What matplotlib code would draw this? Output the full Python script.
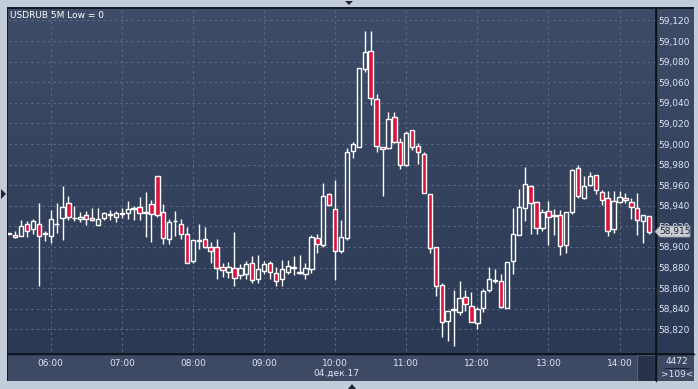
import numpy as np
import matplotlib
matplotlib.use("Agg")
import matplotlib.pyplot as plt
from matplotlib.colors import LinearSegmentedColormap
from matplotlib.patches import Polygon, Rectangle

# 5 minute candles, first one at 05:25
start_time = "05:25"
opens = [58.913, 58.912, 58.911, 58.922, 58.917, 58.922, 58.913, 58.911, 58.922, 58.928,
         58.943, 58.928, 58.927, 58.931, 58.928, 58.921, 58.928, 58.931, 58.929, 58.932,
         58.933, 58.937, 58.939, 58.933, 58.942, 58.969, 58.934, 58.908, 58.925, 58.922,
         58.913, 58.886, 58.906, 58.908, 58.900, 58.900, 58.881, 58.876, 58.880, 58.873,
         58.874, 58.884, 58.869, 58.877, 58.884, 58.875, 58.869, 58.876, 58.880, 58.875,
         58.874, 58.879, 58.909, 58.902, 58.951, 58.937, 58.896, 58.909, 58.993, 58.997,
         59.073, 59.090, 59.044, 58.997, 58.996, 59.026, 59.002, 58.980, 59.014, 58.998,
         58.990, 58.951, 58.900, 58.863, 58.828, 58.839, 58.837, 58.851, 58.843, 58.826,
         58.841, 58.858, 58.867, 58.867, 58.841, 58.886, 58.912, 58.938, 58.959, 58.944,
         58.918, 58.935, 58.930, 58.931, 58.902, 58.934, 58.977, 58.948, 58.960, 58.970,
         58.953, 58.948, 58.917, 58.944, 58.948, 58.944, 58.938, 58.925, 58.930]
highs = [58.914, 58.916, 58.926, 58.925, 58.927, 58.943, 58.916, 58.936, 58.943, 58.959,
         58.950, 58.940, 58.934, 58.935, 58.938, 58.938, 58.934, 58.936, 58.935, 58.938,
         58.945, 58.940, 58.949, 58.953, 58.946, 58.969, 58.942, 58.927, 58.935, 58.927,
         58.919, 58.907, 58.922, 58.919, 58.905, 58.908, 58.884, 58.885, 58.915, 58.883,
         58.886, 58.891, 58.892, 58.886, 58.886, 58.881, 58.887, 58.887, 58.891, 58.892,
         58.884, 58.912, 58.913, 58.962, 58.952, 58.965, 58.926, 58.996, 59.002, 59.074,
         59.110, 59.110, 59.049, 58.997, 59.031, 59.031, 59.006, 59.013, 59.014, 59.001,
         58.992, 58.951, 58.900, 58.865, 58.838, 58.858, 58.867, 58.858, 58.856, 58.842,
         58.859, 58.881, 58.879, 58.874, 58.885, 58.938, 58.956, 58.978, 58.960, 58.945,
         58.937, 58.945, 58.937, 58.936, 58.934, 58.976, 58.980, 58.969, 58.973, 58.970,
         58.955, 58.954, 58.954, 58.954, 58.952, 58.948, 58.952, 58.931, 58.930]
lows = [58.913, 58.909, 58.911, 58.910, 58.913, 58.862, 58.906, 58.904, 58.914, 58.907,
        58.926, 58.925, 58.924, 58.921, 58.925, 58.921, 58.926, 58.926, 58.924, 58.928,
        58.927, 58.926, 58.926, 58.910, 58.905, 58.929, 58.903, 58.903, 58.911, 58.908,
        58.884, 58.884, 58.898, 58.899, 58.884, 58.869, 58.871, 58.870, 58.862, 58.869,
        58.869, 58.865, 58.865, 58.874, 58.869, 58.862, 58.862, 58.874, 58.873, 58.874,
        58.869, 58.875, 58.894, 58.900, 58.940, 58.868, 58.894, 58.907, 58.986, 58.997,
        59.070, 59.038, 58.992, 58.950, 58.995, 59.001, 58.976, 58.979, 58.994, 58.981,
        58.952, 58.894, 58.852, 58.813, 58.809, 58.804, 58.834, 58.838, 58.827, 58.820,
        58.837, 58.856, 58.865, 58.841, 58.841, 58.874, 58.912, 58.925, 58.913, 58.913,
        58.916, 58.902, 58.912, 58.892, 58.894, 58.932, 58.948, 58.947, 58.959, 58.951,
        58.941, 58.911, 58.914, 58.943, 58.943, 58.927, 58.912, 58.904, 58.913]
closes = [58.914, 58.910, 58.920, 58.916, 58.925, 58.911, 58.914, 58.927, 58.922, 58.939,
          58.929, 58.928, 58.929, 58.927, 58.926, 58.927, 58.933, 58.932, 58.933, 58.933,
          58.937, 58.938, 58.933, 58.933, 58.932, 58.931, 58.909, 58.924, 58.925, 58.913,
          58.884, 58.907, 58.907, 58.900, 58.896, 58.880, 58.878, 58.881, 58.870, 58.880,
          58.883, 58.868, 58.879, 58.883, 58.876, 58.867, 58.879, 58.882, 58.880, 58.875,
          58.880, 58.910, 58.903, 58.950, 58.941, 58.896, 58.910, 58.992, 59.000, 59.074,
          59.089, 59.045, 58.998, 58.995, 59.024, 59.002, 58.980, 59.011, 58.997, 58.992,
          58.952, 58.899, 58.862, 58.827, 58.838, 58.839, 58.850, 58.845, 58.827, 58.840,
          58.857, 58.869, 58.867, 58.842, 58.885, 58.913, 58.939, 58.961, 58.943, 58.918,
          58.934, 58.929, 58.930, 58.901, 58.934, 58.975, 58.950, 58.959, 58.969, 58.955,
          58.946, 58.916, 58.945, 58.949, 58.946, 58.939, 58.926, 58.931, 58.915]

hour_labels = ["06:00", "07:00", "08:00", "09:00", "10:00", "11:00", "12:00", "13:00", "14:00"]
date_label = "04.дек.17"
price_ticks = [58.82, 58.84, 58.86, 58.88, 58.90, 58.92, 58.94, 58.96, 58.98,
               59.00, 59.02, 59.04, 59.06, 59.08, 59.10, 59.12]
title = "USDRUB 5M Low = 0"
bar_count = "4472"
visible_count = ">109<"

W, H = 698, 389
BORDER = '#c3ccd9'
TXT = '#dde6f5'
RED = '#dc143c'


def box(x0, y0, x1, y1):
    return [x0 / W, 1 - y1 / H, (x1 - x0) / W, (y1 - y0) / H]


def fx(x):
    return x / W


def fy(y):
    return 1 - y / H


def gradient(ax, top, bottom):
    cmap = LinearSegmentedColormap.from_list('g', [top, bottom])
    ax.imshow(np.linspace(0, 1, 64).reshape(-1, 1), cmap=cmap, aspect='auto',
              extent=[0, 1, 0, 1], transform=ax.transAxes, zorder=0)


def to_min(s):
    h, m = s.split(':')
    return int(h) * 60 + int(m)


fig = plt.figure(figsize=(W / 100, H / 100), dpi=100)
fig.patch.set_facecolor(BORDER)

# dark frame behind the panels
frame = fig.add_axes(box(7, 7, 694, 381))
frame.set_facecolor('#141a26')
frame.set_xticks([]); frame.set_yticks([])
for s in frame.spines.values():
    s.set_visible(False)

# right price panel
rp = fig.add_axes(box(656, 9, 694, 353))
gradient(rp, '#3f4c67', '#2c3955')
rp.axis('off')

# bottom time panel
bp = fig.add_axes(box(8, 355, 655, 381))
bp.set_facecolor('#3e4a64')
bp.set_xticks([]); bp.set_yticks([])
for s in bp.spines.values():
    s.set_visible(False)
bp.add_patch(Rectangle((637 - 8, 0), 18, 26, facecolor='#28334b', edgecolor='#56627c',
                       lw=0.8, transform=bp.transData))
bp.set_xlim(0, 647); bp.set_ylim(0, 26)

cp = fig.add_axes(box(656, 355, 694, 381))
cp.set_facecolor('#3e4a64')
cp.set_xticks([]); cp.set_yticks([])
for s in cp.spines.values():
    s.set_visible(False)

# main candle axes
ax = fig.add_axes(box(8, 9, 655, 353))
gradient(ax, '#3f4c67', '#2c3955')
for s in ax.spines.values():
    s.set_visible(False)

n = len(opens)
xs = np.arange(n)
t0 = to_min(start_time)
hour_pos = [(to_min(h) - t0) / 5 for h in hour_labels]

grid_kw = dict(color='#5a6782', lw=0.8, linestyles=(0, (2.2, 2.8)), zorder=1)
ax.hlines(price_ticks, -1, n + 1, **grid_kw)
ax.vlines(hour_pos, 58.7, 59.2, **grid_kw)

bw = 0.74
for i in range(n):
    o, h, l, c = opens[i], highs[i], lows[i], closes[i]
    top, bot = max(o, c), min(o, c)
    ax.vlines(i, top, h, color='white', lw=1.0, zorder=2)
    ax.vlines(i, l, bot, color='white', lw=1.0, zorder=2)
    face = RED if c < o else '#34415c'
    hgt = max(top - bot, 0.0006)
    ax.add_patch(Rectangle((i - bw / 2, bot), bw, hgt, facecolor=face,
                           edgecolor='white', lw=1.0, zorder=3))

ax.set_xlim(-0.21, 108.99)
ax.set_ylim(58.79703, 59.13117)

ax.yaxis.tick_right()
ax.set_yticks(price_ticks)
ax.set_yticklabels([f"{v:.3f}".replace('.', ',') for v in price_ticks])
ax.set_xticks(hour_pos)
ax.set_xticklabels(hour_labels)
ax.tick_params(axis='both', length=0, labelsize=6.5, labelcolor=TXT)
ax.tick_params(axis='y', pad=2.5)
ax.tick_params(axis='x', pad=4.5)

fig.text(fx(336), fy(373), date_label, fontsize=6.5, color=TXT, ha='center', va='center')
fig.text(fx(10), fy(15), title, fontsize=6.5, color='white', ha='left', va='center')

# bar count box
fig.text(fx(677), fy(362), bar_count, fontsize=6.5, color=TXT, ha='center', va='center')
fig.add_artist(plt.Line2D([fx(665), fx(689)], [fy(368), fy(368)], color='#1a2233', lw=0.8))
fig.text(fx(677), fy(374.5), visible_count, fontsize=6.5, color=TXT, ha='center', va='center')

# separators
fig.add_artist(plt.Line2D([fx(655.5), fx(655.5)], [fy(8), fy(381)], color='#0d111a', lw=1.0))
fig.add_artist(plt.Line2D([fx(8), fx(694)], [fy(354), fy(354)], color='#0d111a', lw=1.0))

# last price marker
last = closes[-1]
ly = 20.5 + (59.12 - last) * 1029.5
pts = [(655, ly), (660, ly - 5.5), (690, ly - 5.5), (690, ly + 5.5), (660, ly + 5.5)]
fig.add_artist(Polygon([(fx(a), fy(b)) for a, b in pts], closed=True,
                       facecolor='#c9cdd4', edgecolor='#8d95a3', lw=0.6, zorder=5))
fig.text(fx(675), fy(ly + 0.3), f"{last:.3f}".replace('.', ','), fontsize=6.5,
         color='#1c2536', ha='center', va='center', zorder=6)

# small navigation arrows on the outer border
for tri in ([(345, 1), (353, 1), (349, 5)],
            [(1, 189), (1, 199), (6, 194)],
            [(348, 389), (356, 389), (352, 384)]):
    fig.add_artist(Polygon([(fx(a), fy(b)) for a, b in tri], closed=True,
                           facecolor='#1e2535', edgecolor='none'))

fig.savefig('out.png', dpi=100, facecolor=fig.get_facecolor())
